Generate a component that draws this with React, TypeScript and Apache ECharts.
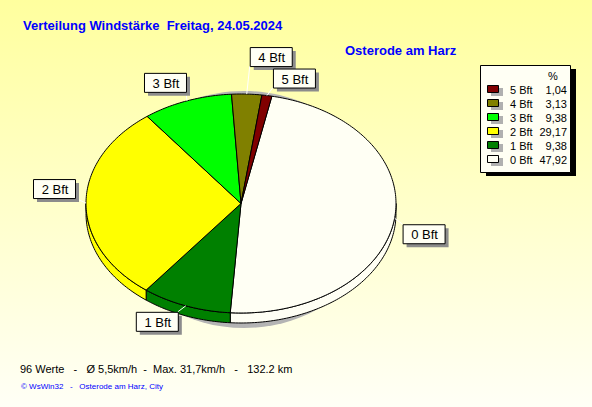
import React, { useEffect, useRef } from "react";
import * as echarts from "echarts";

const categories = ["0 Bft", "1 Bft", "2 Bft", "3 Bft", "4 Bft", "5 Bft"];
const percents = [47.92, 9.38, 29.17, 9.38, 3.13, 1.04];
const sliceColors = ["#FFFFF4", "#008000", "#FFFF00", "#00FF00", "#808000", "#800000"];
const legendOrder = [5, 4, 3, 2, 1, 0];
const titleText = "Verteilung Windstärke  Freitag, 24.05.2024";
const subtitleText = "Osterode am Harz";
const statsText = "96 Werte   -   Ø 5,5km/h  -  Max. 31,7km/h   -   132.2 km";
const copyText = "© WsWin32   -   Osterode am Harz, City";

// layout (not data)
const CX = 241;
const CY = 203.5;
const RX = 155;
const RY = 109.5;
const DEPTH = 10;
const START = 78.5;
const labelBoxOffsets = [
  [8, 6],
  [-50, 6],
  [-53, -24],
  [-43, -28],
  [3, -47],
  [6, -27],
];
const BOX_W = 42;
const BOX_H = 19;
const FONT = "Liberation Sans, Arial, sans-serif";

const total = percents.reduce((a, b) => a + b, 0);
const pt = (deg: number, dy = 0): number[] => {
  const r = (deg * Math.PI) / 180;
  return [CX + RX * Math.cos(r), CY - RY * Math.sin(r) + dy];
};
const arcPts = (a1: number, a2: number, dy = 0): number[][] => {
  const out: number[][] = [];
  const n = Math.max(2, Math.ceil(Math.abs(a2 - a1)));
  for (let k = 0; k <= n; k++) out.push(pt(a1 + ((a2 - a1) * k) / n, dy));
  return out;
};

function renderItem(params: any, api: any) {
  const i = params.dataIndex;
  const v = api.value(0);
  let cum = 0;
  for (let k = 0; k < i; k++) cum += percents[k];
  const a1 = START - (cum / total) * 360;
  const a2 = a1 - (v / total) * 360;
  const children: any[] = [];
  for (let k = -2; k <= 1; k++) {
    const lo = Math.max(a2, -180 + 360 * k);
    const hi = Math.min(a1, 0 + 360 * k);
    if (hi > lo) {
      const top = arcPts(hi, lo);
      const bot = arcPts(lo, hi, DEPTH);
      children.push({
        type: "polygon",
        shape: { points: top.concat(bot) },
        style: { fill: sliceColors[i], stroke: "#000", lineWidth: 1 },
      });
    }
  }
  const face = [[CX, CY]].concat(arcPts(a1, a2));
  children.push({
    type: "polygon",
    shape: { points: face },
    style: { fill: sliceColors[i], stroke: "#000", lineWidth: 1 },
  });
  const mid = (a1 + a2) / 2;
  const p = pt(mid);
  const bx = p[0] + labelBoxOffsets[i][0];
  const by = p[1] + labelBoxOffsets[i][1];
  const nx = Math.min(Math.max(p[0], bx), bx + BOX_W);
  const ny = Math.min(Math.max(p[1], by), by + BOX_H);
  children.push({
    type: "line",
    shape: { x1: p[0], y1: p[1], x2: nx, y2: ny },
    style: { stroke: "#FFFFFF", lineWidth: 1 },
  });
  children.push({
    type: "rect",
    shape: { x: bx + 4, y: by + 4, width: BOX_W, height: BOX_H },
    style: { fill: "#8c8c8c" },
  });
  children.push({
    type: "rect",
    shape: { x: bx + 0.5, y: by + 0.5, width: BOX_W, height: BOX_H },
    style: { fill: "#FFFFF4", stroke: "#000", lineWidth: 1 },
  });
  children.push({
    type: "text",
    style: {
      text: categories[i],
      x: bx + BOX_W / 2 + 1,
      y: by + BOX_H / 2 + 1,
      textAlign: "center",
      textVerticalAlign: "middle",
      font: `13px ${FONT}`,
      fill: "#000",
    },
  });
  return { type: "group", children };
}

export default function App() {
  const ref = useRef<HTMLDivElement>(null);
  useEffect(() => {
    const chart = echarts.init(ref.current!, null, { renderer: "svg" });
    const legendEls: any[] = [
      { type: "rect", shape: { x: 486, y: 69, width: 90, height: 107 }, style: { fill: "#000" }, z: 5 },
      {
        type: "rect",
        shape: { x: 480.5, y: 65.5, width: 90, height: 107 },
        style: { fill: "#FFFFF4", stroke: "#000", lineWidth: 1 },
        z: 6,
      },
      {
        type: "text",
        style: { text: "%", x: 553, y: 76, textAlign: "center", textVerticalAlign: "middle", font: `11px ${FONT}`, fill: "#000" },
        z: 7,
      },
    ];
    legendOrder.forEach((ci, row) => {
      const y = 90 + row * 14;
      legendEls.push(
        { type: "rect", shape: { x: 491, y: y - 2, width: 12, height: 8 }, style: { fill: "#b0b0b0" }, z: 6 },
        {
          type: "rect",
          shape: { x: 487.5, y: y - 4.5, width: 11, height: 7 },
          style: { fill: sliceColors[ci], stroke: "#000", lineWidth: 1 },
          z: 7,
        },
        {
          type: "text",
          style: { text: categories[ci], x: 510, y: y, textAlign: "left", textVerticalAlign: "middle", font: `11px ${FONT}`, fill: "#000" },
          z: 7,
        },
        {
          type: "text",
          style: {
            text: percents[ci].toFixed(2).replace(".", ","),
            x: 567,
            y: y,
            textAlign: "right",
            textVerticalAlign: "middle",
            font: `11px ${FONT}`,
            fill: "#000",
          },
          z: 7,
        }
      );
    });
    chart.setOption({
      animation: false,
      backgroundColor: {
        type: "linear",
        x: 0,
        y: 0,
        x2: 0,
        y2: 1,
        colorStops: [
          { offset: 0, color: "#FFFF9E" },
          { offset: 1, color: "#FFFFF6" },
        ],
      },
      graphic: {
        elements: [
          {
            type: "ellipse",
            shape: { cx: CX + 3, cy: CY + 6, rx: 136, ry: 118.5 },
            style: { fill: "#b4b4b4" },
            z: 0,
          },
          {
            type: "text",
            style: { text: titleText, x: 23, y: 25, textVerticalAlign: "middle", font: `bold 13px ${FONT}`, fill: "#0000FF" },
          },
          {
            type: "text",
            style: { text: subtitleText, x: 345, y: 50, textVerticalAlign: "middle", font: `bold 13px ${FONT}`, fill: "#0000FF" },
          },
          {
            type: "text",
            style: { text: statsText, x: 20, y: 369, textVerticalAlign: "middle", font: `11px ${FONT}`, fill: "#000" },
          },
          {
            type: "text",
            style: { text: copyText, x: 21, y: 386, textVerticalAlign: "middle", font: `8px ${FONT}`, fill: "#0000FF" },
          },
          ...legendEls,
        ],
      },
      series: [
        {
          type: "custom",
          coordinateSystem: "none",
          silent: true,
          z: 2,
          renderItem,
          data: percents.map((v, i) => ({ name: categories[i], value: [v, i] })),
        },
      ],
    });
    return () => chart.dispose();
  }, []);
  return <div ref={ref} style={{ position: "absolute", left: 0, top: 0, width: 592, height: 407 }} />;
}
